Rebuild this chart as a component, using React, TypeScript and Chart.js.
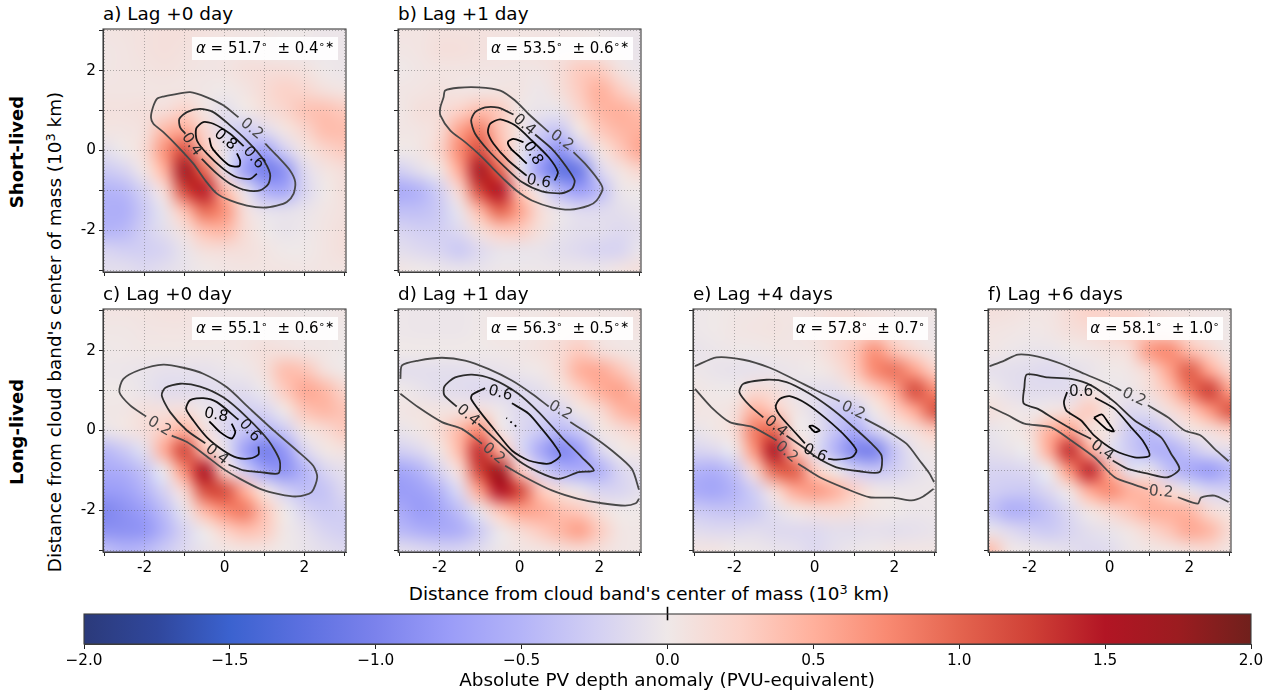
import { useEffect, useRef } from "react";
import { Chart } from "chart.js/auto";

const FONT = "'DejaVu Sans', sans-serif";

// colour map
const cmapValues = [-2, -1.75, -1.5, -1.25, -1, -0.75, -0.5, -0.25, 0, 0.25, 0.5, 0.75, 1, 1.25, 1.5, 1.75, 2];
const cmapColors = [
  "#2b3a7a", "#30479c", "#3b62cf", "#5c70e0", "#7b82ec", "#9a9cf8", "#b4b4f8", "#d2cff3", "#efe8e8",
  "#fcd2c8", "#ffb09c", "#f98a72", "#e4644f", "#cf4036", "#b21524", "#9b1c20", "#70201c",
];
const cbarTicks = [-2, -1.5, -1, -0.5, 0, 0.5, 1, 1.5, 2];
const zeroMarkX = [0, 0];
const zeroMarkY = [0.79, 1.24];

const axisTicks = [-3, -2, -1, 0, 1, 2, 3];
const labelledTicks = [-2, 0, 2];
const gridCoords = [-3, -2.5, -2, -1.5, -1, -0.5, 0, 0.5, 1, 1.5, 2, 2.5, 3];

// anomaly values, rows from y=3 down to y=-3, columns x=-3 to x=3
const gridA = [
  [.05, .06, .08, .1, .1, .08, .06, .04, .02, 0, 0, -.03, -.03],
  [.03, .05, .08, .1, .08, .05, .03, .05, .02, 0, -.02, -.03, -.03],
  [.03, .05, .06, .08, .06, .04, .05, .1, .12, .12, .08, 0, -.03],
  [.05, .05, .05, .05, .05, .02, 0, .05, .15, .25, .2, .1, .05],
  [.08, .08, .1, .12, .25, .05, -.1, 0, .1, .2, .35, .38, .3],
  [.05, .05, .1, .45, .55, .2, -.15, -.3, -.15, .05, .2, .4, .4],
  [-.1, 0, .15, .7, 1.15, .35, -.05, -.45, -.7, -.25, .05, .2, .3],
  [-.3, -.2, .05, .5, 1.65, .95, -.05, -.7, -1.05, -.85, -.15, .05, .12],
  [-.5, -.45, -.2, .15, 1.2, 1.45, .45, -.05, -.55, -.65, -.2, 0, .1],
  [-.55, -.55, -.3, -.05, .4, .95, .7, .12, -.08, -.1, -.05, .03, .08],
  [-.5, -.45, -.25, -.1, .1, .4, .45, .15, 0, -.05, -.02, .05, .1],
  [-.2, -.25, -.25, -.2, -.05, .1, .12, .1, .05, 0, 0, .05, .1],
  [-.1, -.1, -.15, -.1, -.05, 0, .03, .05, .05, .05, .03, .05, .05],
];
const gridB = [
  [.05, .05, .08, .08, .08, .06, .05, .04, .03, .02, 0, -.03, -.03],
  [.03, .05, .1, .1, .08, .08, .06, .08, .08, .08, .04, -.02, -.05],
  [0, .03, .05, .05, .05, .04, .04, .04, .12, .3, .3, .08, -.03],
  [.03, .05, .08, .05, .04, .06, .05, -.02, .1, .3, .5, .3, .1],
  [.02, .1, .12, .25, .4, .3, .02, -.05, -.05, .2, .45, .5, .4],
  [.03, .05, .15, .6, .85, .35, .05, -.25, -.35, .02, .3, .45, .5],
  [0, .03, .2, .75, 1.15, .5, -.05, -.45, -.85, -.35, .05, .3, .55],
  [-.25, -.1, .03, .55, 1.6, 1, -.05, -.75, -1.2, -1.1, -.2, .05, .2],
  [-.6, -.5, -.25, .2, 1.2, 1.5, .35, -.05, -.5, -.75, -.45, -.05, 0],
  [-.4, -.4, -.3, -.05, .45, 1, .6, .15, -.05, -.15, -.15, -.1, -.05],
  [-.2, -.25, -.25, -.15, .1, .3, .3, .1, -.05, -.1, -.1, -.15, -.1],
  [-.1, -.15, -.2, -.3, -.15, -.05, -.05, -.05, -.1, -.15, -.2, -.2, -.05],
  [.03, 0, -.03, -.05, -.05, -.02, -.02, -.02, -.03, -.03, -.03, .05, .1],
];
const gridC = [
  [.05, .05, .06, .08, .08, .05, .03, .03, .03, .02, 0, 0, .03],
  [.02, .02, .04, .05, .05, .04, .03, .03, .04, .04, .03, .02, 0],
  [0, .01, .02, .02, .02, .02, .02, .05, .1, .08, .04, .02, 0],
  [-.02, -.03, -.05, -.08, -.08, -.08, -.04, -.02, .1, .4, .35, .1, 0],
  [0, 0, -.05, -.12, -.12, -.12, -.12, -.12, -.02, .3, .55, .45, .2],
  [.02, .03, .1, .1, .12, -.02, -.15, -.25, -.2, .02, .35, .45, .35],
  [-.05, .03, .12, .3, .5, .1, -.15, -.35, -.5, -.3, .05, .15, .3],
  [-.45, -.3, -.1, .55, 1.2, .35, -.05, -.7, -1.05, -.8, -.2, .02, .08],
  [-.6, -.55, -.35, -.02, .75, 1.55, .2, -.25, -.7, -.85, -.5, -.2, -.08],
  [-.75, -.7, -.5, -.2, .2, 1.15, 1.15, .5, .05, -.25, -.4, -.35, -.15],
  [-.95, -.85, -.7, -.4, -.05, .45, .75, .85, .35, 0, -.2, -.3, -.25],
  [-.85, -.85, -.8, -.5, -.2, 0, .25, .4, .3, .02, -.08, -.2, -.25],
  [-.4, -.5, -.45, -.3, -.15, -.05, .02, .05, .05, 0, -.05, -.1, -.15],
];
const gridD = [
  [-.02, -.03, -.03, -.03, -.01, .03, .03, .02, .05, .03, .03, .03, .08],
  [-.02, -.03, -.03, -.03, 0, .05, .02, .05, .1, .12, .06, .03, .05],
  [0, 0, 0, 0, 0, .01, .03, .08, .15, .3, .12, .05, .02],
  [-.1, -.1, -.1, -.1, -.08, -.06, -.03, .01, .15, .5, .55, .35, .12],
  [0, -.05, -.1, -.12, -.15, -.15, -.15, -.1, .03, .25, .5, .6, .35],
  [.03, .06, .06, .08, .12, -.02, -.15, -.2, -.2, .02, .15, .45, .55],
  [-.05, .02, .15, .45, .75, .05, -.15, -.3, -.45, -.3, .02, .12, .25],
  [-.25, -.15, .03, .45, 1.35, .5, -.15, -.6, -.95, -.75, -.2, 0, .05],
  [-.65, -.5, -.2, .15, 1.25, 1.7, .3, -.2, -.5, -.6, -.55, -.2, -.08],
  [-.75, -.7, -.5, -.15, .6, 1.5, 1.2, .35, .1, -.05, -.2, -.2, -.1],
  [-.6, -.75, -.65, -.4, -.05, .35, .6, .55, .4, .3, .1, 0, 0],
  [-.45, -.55, -.6, -.55, -.3, -.02, .15, .3, .45, .6, .3, .05, .02],
  [-.1, -.15, -.2, -.2, -.12, -.03, .03, .05, .1, .15, .1, .03, .02],
];
const gridE = [
  [-.02, 0, .02, .03, .05, .05, .06, .1, .08, .05, .03, .02, .02],
  [-.02, 0, .03, .05, .06, .04, .08, .15, .2, .2, .1, .03, -.02],
  [-.05, -.03, -.01, -.01, .02, .03, .05, .18, .35, .7, .35, .15, .03],
  [-.02, -.05, -.07, -.07, -.05, -.03, 0, .08, .3, .75, .9, .6, .25],
  [.03, 0, 0, .15, .1, -.05, -.1, -.1, .05, .25, .55, 1.15, .75],
  [.05, .03, .1, .5, .3, .05, -.1, -.3, -.3, 0, .25, .55, 1.1],
  [-.05, .02, .15, .85, .95, .05, -.05, -.35, -.6, -.25, -.02, .1, .3],
  [-.2, -.15, -.03, .7, 1.55, .4, -.1, -.5, -.95, -1, -.35, -.05, .03],
  [-.5, -.55, -.35, .2, 1, 1.05, .3, 0, -.25, -.35, -.25, -.1, -.02],
  [-.6, -.65, -.5, -.25, .15, .55, .65, .5, .25, .03, -.03, -.03, -.02],
  [-.3, -.35, -.35, -.3, -.1, .05, .12, .15, .1, .03, 0, -.03, -.02],
  [-.12, -.15, -.15, -.12, -.15, -.15, -.15, -.1, -.1, -.08, -.1, -.08, -.05],
  [.05, .05, 0, -.02, -.05, -.08, -.15, -.08, -.03, -.01, .03, .03, .03],
];
const gridF = [
  [.1, .08, .05, .05, .15, .25, .2, .18, .1, .06, .05, .03, .02],
  [.05, .03, .01, .03, .1, .15, .2, .3, .25, .2, .1, .02, 0],
  [.03, -.02, -.04, -.04, 0, .03, .08, .15, .65, .75, .4, .2, .03],
  [-.08, -.1, -.12, -.15, -.1, -.05, 0, .03, .2, .6, 1.05, .55, .2],
  [0, -.08, -.12, -.12, -.12, .05, -.03, -.03, .1, .35, .85, 1.25, .6],
  [.1, .03, -.02, .05, .12, .3, .05, -.15, -.1, .1, .3, .65, 1.1],
  [-.05, 0, .1, .5, .6, .1, .05, -.3, -.4, -.2, .03, .1, .25],
  [-.1, -.05, 0, .55, 1.35, .55, -.1, -.3, -.5, -.55, -.35, -.15, -.1],
  [-.2, -.2, -.15, 0, .7, 1.4, .5, -.1, -.05, -.4, -.6, -.75, -.5],
  [-.25, -.3, -.3, -.15, .05, .55, .75, .5, .4, .15, -.05, -.2, -.25],
  [-.35, -.55, -.5, -.35, -.15, .05, .2, .35, .5, .5, .45, .15, .05],
  [-.05, -.15, -.25, -.3, -.2, -.1, -.05, .05, .2, .35, .55, .45, .15],
  [.4, .03, -.02, -.05, -.1, -.15, -.12, -.03, .02, .05, .1, .15, .05],
];

type Contour = { level: number; path: number[][] };
type ContourLabel = { level: number; x: number; y: number; angle: number };

const contoursA: Contour[] = [
  { level: .2, path: [[1.02, .17], [1.31, -.13], [1.64, -.5], [1.77, -.79], [1.73, -1.08], [1.56, -1.29], [1.31, -1.38], [.98, -1.43], [.56, -1.38], [.14, -1.25], [-.19, -1.08], [-.48, -.75], [-.78, -.33], [-1.15, .08], [-1.53, .46], [-1.78, .67], [-1.84, .83], [-1.79, 1.08], [-1.69, 1.29], [-1.53, 1.35], [-1.28, 1.4], [-.86, 1.46], [-.44, 1.33], [-.03, 1.13], [.35, .83]] },
  { level: .4, path: [[-.98, .42], [-1.11, .58], [-1.13, .79], [-.94, .96], [-.61, 1.04], [-.28, .96], [.14, .63], [.56, .25], [.93, -.17], [1.14, -.58], [1.1, -.83], [.89, -1], [.56, -1], [.14, -.83], [-.19, -.58], [-.57, -.21]] },
  { level: .6, path: [[.48, .11], [.14, .42], [-.28, .67], [-.53, .71], [-.71, .54], [-.69, .25], [-.44, -.08], [-.03, -.46], [.31, -.67], [.64, -.71], [.81, -.58]] },
  { level: .8, path: [[-.38, .32], [-.32, .08], [-.11, -.17], [.14, -.38], [.37, -.39], [.39, -.25], [.31, -.07]] },
];
const labelsA: ContourLabel[] = [
  { level: .2, x: .68, y: .54, angle: 40 },
  { level: .4, x: -.82, y: .15, angle: 55 },
  { level: .6, x: .73, y: -.18, angle: 50 },
  { level: .8, x: .02, y: .27, angle: 40 },
];

const contoursB: Contour[] = [
  { level: .2, path: [[1.35, -.04], [1.64, -.33], [1.98, -.75], [2.08, -.96], [1.93, -1.25], [1.73, -1.38], [1.27, -1.48], [.81, -1.42], [.31, -1.25], [-.03, -1.04], [-.36, -.75], [-.69, -.42], [-1.03, -.08], [-1.36, .21], [-1.73, .5], [-1.98, .88], [-1.98, 1.08], [-1.9, 1.33], [-1.86, 1.5], [-1.53, 1.57], [-1.03, 1.58], [-.48, 1.5], [-.11, 1.25], [.22, .92], [.73, .46]] },
  { level: .4, path: [[-.15, .9], [-.53, 1.07], [-.86, 1.08], [-1.11, .96], [-1.21, .75], [-1.11, .42], [-.78, 0], [-.36, -.42], [.06, -.79], [.56, -1.02], [1.06, -1.07], [1.31, -.96], [1.38, -.75], [1.18, -.42], [.81, .04], [.39, .4]] },
  { level: .6, path: [[.18, -.63], [-.28, -.25], [-.65, .17], [-.79, .46], [-.73, .67], [-.48, .78], [-.11, .63], [.31, .25], [.73, -.17], [.96, -.54], [.88, -.75]] },
  { level: .8, path: [[.1, .21], [-.15, .29], [-.29, .21], [-.21, .04], [.02, -.17], [.18, -.33]] },
];
const labelsB: ContourLabel[] = [
  { level: .2, x: 1.06, y: .25, angle: 35 },
  { level: .4, x: .12, y: .64, angle: 40 },
  { level: .6, x: .48, y: -.78, angle: 10 },
  { level: .8, x: .33, y: -.07, angle: 60 },
];

const contoursC: Contour[] = [
  { level: .2, path: [[-1.96, .35], [-2.36, .63], [-2.63, .96], [-2.53, 1.29], [-2.11, 1.52], [-1.53, 1.65], [-1.03, 1.57], [-.53, 1.42], [.06, 1.08], [.64, .54], [1.23, 0], [1.81, -.5], [2.22, -.88], [2.32, -1.17], [2.18, -1.54], [1.81, -1.65], [1.39, -1.6], [.89, -1.46], [.39, -1.21], [-.03, -.96], [-.53, -.58], [-.94, -.29], [-1.32, -.13]] },
  { level: .4, path: [[-.48, -.32], [-.94, 0], [-1.36, .46], [-1.57, .88], [-1.48, 1.07], [-1.11, 1.17], [-.61, 1.1], [-.03, .83], [.56, .33], [1.1, -.25], [1.38, -.75], [1.35, -1.07], [.89, -1.04], [.48, -1], [.1, -.85]] },
  { level: .6, path: [[.35, .27], [-.19, .71], [-.53, .81], [-.86, .76], [-.96, .54], [-.78, .25], [-.44, -.17], [-.03, -.5], [.31, -.68], [.64, -.7], [.85, -.6], [.85, -.4]] },
  { level: .8, path: [[-.38, .23], [-.11, -.04], [.18, -.2], [.27, -.04], [.18, .17]] },
];
const labelsC: ContourLabel[] = [
  { level: .2, x: -1.63, y: .1, angle: 30 },
  { level: .4, x: -.19, y: -.6, angle: 38 },
  { level: .6, x: .63, y: 0, angle: 50 },
  { level: .8, x: -.21, y: .38, angle: 10 },
];

const contoursD: Contour[] = [
  { level: .2, path: [[-2.98, 1.29], [-2.94, 1.63], [-2.53, 1.75], [-1.94, 1.82], [-1.36, 1.75], [-.78, 1.54], [-.19, 1.25], [.31, .92], [.73, .6]] },
  { level: .2, path: [[1.27, .21], [1.81, -.13], [2.31, -.5], [2.81, -.96], [2.99, -1.48]] },
  { level: .2, path: [[-2.98, .92], [-2.53, .58], [-1.94, .21], [-1.44, .04], [-.94, -.33]] },
  { level: .2, path: [[-.36, -.88], [.14, -1.17], [.81, -1.5], [1.47, -1.71], [2.06, -1.82], [2.64, -1.88], [2.91, -1.82], [2.99, -1.71]] },
  { level: .4, path: [[-1.57, .6], [-1.88, .88], [-1.88, 1.1], [-1.61, 1.33], [-1.19, 1.4], [-.69, 1.29], [-.03, .92], [.48, .46], [1.06, -.17], [1.56, -.67], [1.86, -1], [1.48, -1.04], [.98, -1.21], [.48, -1.04], [-.03, -.75], [-.53, -.29], [-1.03, .17]] },
  { level: .6, path: [[-.86, 1.06], [-1.18, .9], [-1.21, .79], [-.98, .46], [-.61, 0], [-.19, -.5], [.23, -.75], [.73, -.83], [1.02, -.63], [.89, -.38], [.56, .04], [.23, .42], [-.19, .68]] },
  { level: .8, path: [[-.33, .31], [-.31, .3]] },
  { level: .8, path: [[-.23, .22], [-.19, .2]] },
  { level: .8, path: [[-.12, .13], [-.08, .1]] },
];
const labelsD: ContourLabel[] = [
  { level: .2, x: 1.02, y: .5, angle: 30 },
  { level: .4, x: -1.29, y: .38, angle: 40 },
  { level: .6, x: -.48, y: .93, angle: 15 },
  { level: .2, x: -.65, y: -.58, angle: 40 },
];

const contoursE: Contour[] = [
  { level: .2, path: [[-2.99, 1.61], [-2.45, 1.83], [-1.78, 1.77], [-1.12, 1.57], [-.53, 1.29], [.05, 1], [.63, .73]] },
  { level: .2, path: [[1.26, .29], [1.8, 0], [2.3, -.33], [2.63, -.75], [2.88, -1.08], [2.99, -1.29]] },
  { level: .2, path: [[-2.99, 1.04], [-2.58, .58], [-2.12, .21], [-1.53, .08], [-.95, -.25]] },
  { level: .2, path: [[-.41, -.83], [.13, -1.17], [.8, -1.46], [1.38, -1.67], [1.97, -1.68], [2.43, -1.75], [2.72, -1.65], [2.98, -1.46]] },
  { level: .4, path: [[-1.28, .33], [-1.62, .62], [-1.88, .96], [-1.78, 1.17], [-1.2, 1.27], [-.7, 1.21], [-.12, .92], [.38, .58], [.88, .17], [1.43, -.33], [1.68, -.63], [1.63, -1.04], [1.13, -1.02], [.55, -.92], [.05, -.67], [-.28, -.42], [-.7, -.13]] },
  { level: .6, path: [[-.24, -.32], [-.53, 0], [-.87, .38], [-.97, .6], [-.87, .79], [-.62, .86], [-.2, .67], [.3, .29], [.8, -.17], [1.05, -.5], [.93, -.67], [.55, -.73], [.34, -.71]] },
  { level: .8, path: [[-.14, .11], [-.05, .12], [.13, 0], [.01, -.04], [-.14, .11]] },
];
const labelsE: ContourLabel[] = [
  { level: .2, x: .97, y: .5, angle: 25 },
  { level: .4, x: -.97, y: .1, angle: 40 },
  { level: .6, x: .01, y: -.57, angle: 25 },
  { level: .2, x: -.7, y: -.54, angle: 40 },
];

const contoursF: Contour[] = [
  { level: .2, path: [[-3, 1.61], [-2.63, 1.75], [-2.29, 1.9], [-1.79, 1.85], [-1.21, 1.67], [-.63, 1.42], [-.04, 1.17], [.29, 1]] },
  { level: .2, path: [[.96, .63], [1.46, .33], [1.88, 0], [2.29, -.13], [2.63, -.46], [2.98, -.77]] },
  { level: .2, path: [[-3, .6], [-2.54, .38], [-2.13, .17], [-1.46, .08], [-.96, -.25], [-.38, -.67], [.13, -1.17], [.63, -1.36], [.96, -1.47]] },
  { level: .2, path: [[1.71, -1.67], [2.21, -1.83], [2.29, -1.68], [2.63, -1.63], [2.98, -1.79]] },
  { level: .4, path: [[-.46, -.21], [-.88, 0], [-1.38, .29], [-1.79, .54], [-2.15, .68], [-2.13, 1.08], [-2.07, 1.4], [-1.54, 1.33], [-.96, 1.29], [-.46, 1.13], [.13, .71], [.63, .25], [1.29, -.17], [1.54, -.58], [1.75, -.96], [1.46, -1.17], [.96, -1.08], [.46, -.96], [.08, -.75]] },
  { level: .6, path: [[-1.06, .96], [-1.14, .71], [-1.08, .5], [-.71, .25], [-.38, -.13], [.13, -.5], [.63, -.67], [1, -.63], [.83, -.25], [.54, .08], [.13, .54], [-.36, .82]] },
  { level: .8, path: [[-.39, .32], [-.19, .4], [-.04, .21], [.11, -.02], [-.08, .04], [-.39, .32]] },
];
const labelsF: ContourLabel[] = [
  { level: .2, x: .61, y: .83, angle: 25 },
  { level: .6, x: -.71, y: .96, angle: 0 },
  { level: .4, x: -.18, y: -.5, angle: 35 },
  { level: .2, x: 1.29, y: -1.54, angle: 5 },
];

const levelColors: Record<string, string> = { "0.2": "#484848", "0.4": "#2c2c2c", "0.6": "#141414", "0.8": "#000000" };

const hexToRgb = (hex: string) => [1, 3, 5].map((i) => parseInt(hex.slice(i, i + 2), 16));

function colorFor(v: number) {
  const c = Math.max(-2, Math.min(2, v));
  let i = 0;
  while (i < cmapValues.length - 2 && c > cmapValues[i + 1]) i++;
  const t = (c - cmapValues[i]) / (cmapValues[i + 1] - cmapValues[i]);
  const a = hexToRgb(cmapColors[i]);
  const b = hexToRgb(cmapColors[i + 1]);
  return a.map((n, k) => Math.round(n + (b[k] - n) * t));
}

const heatPlugin = (grid: number[][]) => ({
  id: "heat",
  beforeDraw(chart: any) {
    const { ctx, chartArea, scales } = chart;
    const off = document.createElement("canvas");
    off.width = gridCoords.length;
    off.height = gridCoords.length;
    const octx = off.getContext("2d")!;
    grid.forEach((row, j) =>
      row.forEach((v, i) => {
        octx.fillStyle = `rgb(${colorFor(v).join(",")})`;
        octx.fillRect(i, j, 1, 1);
      })
    );
    const half = (gridCoords[1] - gridCoords[0]) / 2;
    const x0 = scales.x.getPixelForValue(gridCoords[0] - half);
    const x1 = scales.x.getPixelForValue(gridCoords[gridCoords.length - 1] + half);
    const y0 = scales.y.getPixelForValue(gridCoords[gridCoords.length - 1] + half);
    const y1 = scales.y.getPixelForValue(gridCoords[0] - half);
    ctx.save();
    ctx.beginPath();
    ctx.rect(chartArea.left, chartArea.top, chartArea.width, chartArea.height);
    ctx.clip();
    ctx.imageSmoothingEnabled = true;
    ctx.imageSmoothingQuality = "high";
    ctx.drawImage(off, x0, y0, x1 - x0, y1 - y0);
    ctx.restore();
  },
});

const labelPlugin = (labels: ContourLabel[]) => ({
  id: "contourLabels",
  afterDatasetsDraw(chart: any) {
    const { ctx, scales } = chart;
    ctx.save();
    ctx.font = `15.3px ${FONT}`;
    ctx.textAlign = "center";
    ctx.textBaseline = "middle";
    labels.forEach((l) => {
      ctx.save();
      ctx.translate(scales.x.getPixelForValue(l.x), scales.y.getPixelForValue(l.y));
      ctx.rotate((l.angle * Math.PI) / 180);
      ctx.fillStyle = levelColors[l.level.toFixed(1)];
      ctx.fillText(l.level.toFixed(1), 0, 0);
      ctx.restore();
    });
    ctx.restore();
  },
});

const framePlugin = {
  id: "frame",
  afterDraw(chart: any) {
    const { ctx, chartArea: a } = chart;
    ctx.save();
    ctx.strokeStyle = "#3c3c3c";
    ctx.lineWidth = 1.1;
    ctx.strokeRect(a.left, a.top, a.width, a.height);
    ctx.restore();
  },
};

const PAD_LEFT = 30;
const PAD_TOP = 4;
const PAD_BOTTOM = 24;
const PLOT_SIZE = 243;

type PanelProps = {
  left: number;
  top: number;
  grid: number[][];
  contours: Contour[];
  labels: ContourLabel[];
  showX: boolean;
  showY: boolean;
};

function Panel({ left, top, grid, contours, labels, showX, showY }: PanelProps) {
  const ref = useRef<HTMLCanvasElement>(null);

  useEffect(() => {
    if (!ref.current) return;
    const axis = (show: boolean, fit: (s: any) => void) => ({
      type: "linear" as const,
      min: -3.04,
      max: 3.04,
      afterBuildTicks: (s: any) => {
        s.ticks = axisTicks.map((value) => ({ value }));
      },
      afterFit: (s: any) => {
        s.paddingTop = 0;
        s.paddingBottom = 0;
        s.paddingLeft = 0;
        s.paddingRight = 0;
        fit(s);
      },
      ticks: {
        autoSkip: false,
        maxRotation: 0,
        padding: 3,
        color: "#000",
        font: { family: FONT, size: 15.3 },
        callback: (v: any) => (show && labelledTicks.includes(v) ? String(v) : ""),
      },
      grid: {
        color: "rgba(90,90,90,0.45)",
        lineWidth: 1,
        tickLength: 4,
        tickColor: "#222",
        tickBorderDash: [],
      },
      border: { color: "#3c3c3c", dash: [1, 2] },
    });
    const chart = new Chart(ref.current, {
      type: "scatter",
      data: {
        datasets: contours.map((c) => ({
          data: c.path.map(([x, y]) => ({ x, y })),
          showLine: true,
          pointRadius: 0,
          tension: 0.25,
          borderWidth: 1.8,
          borderColor: levelColors[c.level.toFixed(1)],
        })),
      },
      options: {
        animation: false,
        responsive: false,
        layout: { padding: { top: PAD_TOP, right: 4 } },
        plugins: { legend: { display: false }, tooltip: { enabled: false } },
        scales: {
          x: axis(showX, (s) => { s.height = PAD_BOTTOM; }),
          y: axis(showY, (s) => { s.width = PAD_LEFT; }),
        },
      },
      plugins: [heatPlugin(grid), labelPlugin(labels), framePlugin],
    } as any);
    return () => chart.destroy();
  }, []);

  return (
    <canvas
      ref={ref}
      width={PAD_LEFT + PLOT_SIZE + 4}
      height={PAD_TOP + PLOT_SIZE + PAD_BOTTOM}
      style={{ position: "absolute", left: left - PAD_LEFT, top: top - PAD_TOP }}
    />
  );
}

function ColorBar() {
  const ref = useRef<HTMLCanvasElement>(null);

  useEffect(() => {
    if (!ref.current) return;
    const gradientPlugin = {
      id: "gradient",
      beforeDraw(chart: any) {
        const { ctx, chartArea: a, scales } = chart;
        const x0 = scales.x.getPixelForValue(cmapValues[0]);
        const x1 = scales.x.getPixelForValue(cmapValues[cmapValues.length - 1]);
        const g = ctx.createLinearGradient(x0, 0, x1, 0);
        cmapValues.forEach((v, i) => g.addColorStop((v - cmapValues[0]) / 4, cmapColors[i]));
        ctx.fillStyle = g;
        ctx.fillRect(a.left, a.top, a.width, a.height);
      },
    };
    const chart = new Chart(ref.current, {
      type: "scatter",
      data: {
        datasets: [
          {
            data: zeroMarkX.map((x, i) => ({ x, y: zeroMarkY[i] })),
            showLine: true,
            pointRadius: 0,
            borderColor: "#000",
            borderWidth: 1.6,
            clip: false,
          },
        ],
      },
      options: {
        animation: false,
        responsive: false,
        layout: { padding: { top: 10, left: 24, right: 24 } },
        plugins: { legend: { display: false }, tooltip: { enabled: false } },
        scales: {
          x: {
            type: "linear",
            min: -2,
            max: 2,
            afterBuildTicks: (s: any) => {
              s.ticks = cbarTicks.map((value) => ({ value }));
            },
            afterFit: (s: any) => {
              s.height = 26;
              s.paddingLeft = 0;
              s.paddingRight = 0;
            },
            ticks: {
              autoSkip: false,
              maxRotation: 0,
              padding: 3,
              color: "#000",
              font: { family: FONT, size: 15.3 },
              callback: (v: any) => Number(v).toFixed(1).replace("-", "\u2212"),
            },
            grid: { drawOnChartArea: false, tickLength: 5, tickColor: "#222" },
            border: { color: "#3c3c3c" },
          },
          y: { display: false, min: 0, max: 1 },
        },
      },
      plugins: [gradientPlugin, framePlugin],
    } as any);
    return () => chart.destroy();
  }, []);

  return (
    <canvas
      ref={ref}
      width={1215}
      height={66}
      style={{ position: "absolute", left: 60, top: 604 }}
    />
  );
}

const panels = [
  { id: "a", title: "a) Lag +0 day", left: 103, top: 29, grid: gridA, contours: contoursA, labels: labelsA, showX: false, showY: true, alpha: "51.7", err: "0.4", star: true, boxLeft: 192 },
  { id: "b", title: "b) Lag +1 day", left: 398, top: 29, grid: gridB, contours: contoursB, labels: labelsB, showX: false, showY: false, alpha: "53.5", err: "0.6", star: true, boxLeft: 487 },
  { id: "c", title: "c) Lag +0 day", left: 103, top: 309, grid: gridC, contours: contoursC, labels: labelsC, showX: true, showY: true, alpha: "55.1", err: "0.6", star: true, boxLeft: 192 },
  { id: "d", title: "d) Lag +1 day", left: 398, top: 309, grid: gridD, contours: contoursD, labels: labelsD, showX: true, showY: false, alpha: "56.3", err: "0.5", star: true, boxLeft: 487 },
  { id: "e", title: "e) Lag +4 days", left: 693, top: 309, grid: gridE, contours: contoursE, labels: labelsE, showX: true, showY: false, alpha: "57.8", err: "0.7", star: false, boxLeft: 793 },
  { id: "f", title: "f) Lag +6 days", left: 988, top: 309, grid: gridF, contours: contoursF, labels: labelsF, showX: true, showY: false, alpha: "58.1", err: "1.0", star: false, boxLeft: 1087 },
];

const text = (extra: React.CSSProperties): React.CSSProperties => ({
  position: "absolute",
  fontFamily: FONT,
  fontSize: 18.4,
  color: "#000",
  whiteSpace: "nowrap",
  lineHeight: "20px",
  ...extra,
});

const supStyle: React.CSSProperties = { fontSize: "70%", lineHeight: 0, verticalAlign: "0.45em" };

const rotated = (x: number, y: number): React.CSSProperties => ({
  left: x,
  top: y,
  transform: "translate(-50%, -50%) rotate(-90deg)",
});

export default function App() {
  return (
    <div style={{ position: "absolute", left: 0, top: 0, width: 1276, height: 694, overflow: "hidden", background: "#fff" }}>
      {panels.map((p) => (
        <Panel key={p.id} left={p.left} top={p.top} grid={p.grid} contours={p.contours} labels={p.labels} showX={p.showX} showY={p.showY} />
      ))}
      {panels.map((p) => (
        <div key={p.id + "-title"} style={text({ left: p.left, top: p.top - 25 })}>{p.title}</div>
      ))}
      {panels.map((p) => (
        <div
          key={p.id + "-box"}
          style={text({
            left: p.boxLeft,
            top: p.top + 8,
            width: p.left + 243 - 8 - p.boxLeft,
            height: 23,
            lineHeight: "23px",
            fontSize: 15,
            textAlign: "center",
            background: "rgba(255,255,255,0.92)",
          })}
        >
          <i>α</i> = {p.alpha}<span style={supStyle}>∘</span>&nbsp; ± {p.err}<span style={supStyle}>∘</span>
          {p.star ? <span style={supStyle}>∗</span> : null}
        </div>
      ))}
      <ColorBar />
      <div style={text({ ...rotated(17, 152), fontWeight: "bold", fontSize: 18 })}>Short-lived</div>
      <div style={text({ ...rotated(17, 432), fontWeight: "bold", fontSize: 18 })}>Long-lived</div>
      <div style={text(rotated(55, 332))}>
        Distance from cloud band's center of mass (10<span style={supStyle}>3</span> km)
      </div>
      <div style={text({ left: 649, top: 594, transform: "translate(-50%, -50%)" })}>
        Distance from cloud band's center of mass (10<span style={supStyle}>3</span> km)
      </div>
      <div style={text({ left: 667, top: 680, transform: "translate(-50%, -50%)" })}>
        Absolute PV depth anomaly (PVU-equivalent)
      </div>
    </div>
  );
}
